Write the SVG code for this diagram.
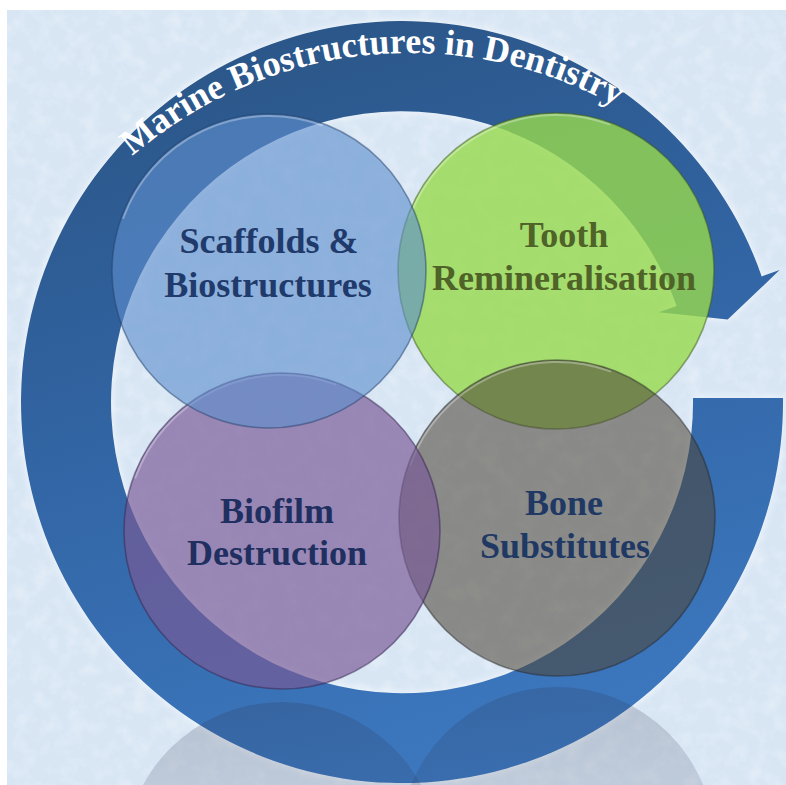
<svg xmlns="http://www.w3.org/2000/svg" xmlns:xlink="http://www.w3.org/1999/xlink" width="786" height="785" viewBox="0 0 786 785">
  <defs>
    <style>
      .lbl { font-family: "Liberation Serif", "Times New Roman", serif; font-weight: bold; font-size: 36px; text-anchor: middle; }
      .title { font-family: "Liberation Serif", "Times New Roman", serif; font-weight: bold; font-size: 36px; fill: #ffffff; }
      .rim { fill: none; stroke-width: 1.6; }
      .hl { fill: none; stroke: #ffffff; stroke-width: 2; stroke-opacity: 0.3; stroke-linecap: round; }
    </style>
    <linearGradient id="ringGrad" gradientUnits="userSpaceOnUse" x1="300" y1="20" x2="520" y2="783">
      <stop offset="0" stop-color="#2b5688"/>
      <stop offset="0.45" stop-color="#3265a4"/>
      <stop offset="1" stop-color="#3d79c1"/>
    </linearGradient>
    <linearGradient id="reflGrad" x1="0" y1="0" x2="0" y2="1">
      <stop offset="0" stop-color="#2a2f4a" stop-opacity="0.2"/>
      <stop offset="0.6" stop-color="#2a2f4a" stop-opacity="0.1"/>
      <stop offset="1" stop-color="#2a2f4a" stop-opacity="0"/>
    </linearGradient>
    <filter id="blur" x="-10%" y="-10%" width="120%" height="120%">
      <feGaussianBlur stdDeviation="4"/>
    </filter>
    <filter id="tex" x="0" y="0" width="100%" height="100%">
      <feTurbulence type="fractalNoise" baseFrequency="0.06" numOctaves="4" seed="7"/>
      <feColorMatrix type="matrix" values="0 0 0 0 1  0 0 0 0 1  0 0 0 0 1  1.6 0 0 0 -0.72"/>
    </filter>
    <path id="ringShape" d="M783,398 A381,381 0 1,1 761.7,276.4 L779.6,270.1 L727.7,319.6 L658.8,312.3 L676.7,306.1 A291,291 0 1,0 693,398 Z"/>
    <path id="titleArc" d="M132.3,156.3 A425,425 0 0,1 653.8,129.9"/>
  </defs>

  <!-- background -->
  <rect x="0" y="0" width="786" height="785" fill="#ffffff"/>
  <rect x="7" y="10" width="779" height="775" fill="#d8e6f4"/>
  <rect x="7" y="10" width="779" height="775" filter="url(#tex)" opacity="0.4"/>

  <!-- circular arrow -->
  <g id="connectors">
    <use xlink:href="#ringShape" fill="#ffffff" opacity="0.75" filter="url(#blur)"/>
    <use xlink:href="#ringShape" fill="url(#ringGrad)"/>
  </g>

  <g id="title">
    <text class="title"><textPath xlink:href="#titleArc" textLength="518" lengthAdjust="spacingAndGlyphs">Marine Biostructures in Dentistry</textPath></text>
  </g>

  <!-- reflections -->
  <g id="reflections">
    <circle cx="282" cy="860" r="158" fill="url(#reflGrad)"/>
    <circle cx="557" cy="845" r="158" fill="url(#reflGrad)"/>
  </g>

  <g id="node-tooth">
    <circle cx="556" cy="271" r="158" fill="#97d94c" fill-opacity="0.8"/>
    <circle class="rim" cx="556" cy="271" r="158" stroke="#3d5a1c" stroke-opacity="0.5"/>
    <path class="hl" d="M409.4,217.6 A156,156 0 0,1 609.4,124.4"/>
    <text class="lbl" fill="#4f6228" x="564" y="247">Tooth</text>
    <text class="lbl" fill="#4f6228" x="564" y="290">Remineralisation</text>
  </g>

  <g id="node-bone">
    <circle cx="557" cy="518" r="158" fill="#4d4537" fill-opacity="0.57"/>
    <circle class="rim" cx="557" cy="518" r="158" stroke="#2a2a2a" stroke-opacity="0.5"/>
    <path class="hl" d="M410.4,464.6 A156,156 0 0,1 610.4,371.4"/>
    <text class="lbl" fill="#1f3864" x="564" y="515">Bone</text>
    <text class="lbl" fill="#1f3864" x="565" y="558">Substitutes</text>
  </g>

  <g id="node-biofilm">
    <circle cx="282" cy="531" r="158" fill="#795a96" fill-opacity="0.68"/>
    <circle class="rim" cx="282" cy="531" r="158" stroke="#3a2a55" stroke-opacity="0.55"/>
    <path class="hl" d="M135.4,477.6 A156,156 0 0,1 335.4,384.4"/>
    <text class="lbl" fill="#1f2f60" x="277" y="523">Biofilm</text>
    <text class="lbl" fill="#1f2f60" x="277" y="565">Destruction</text>
  </g>

  <g id="node-scaffolds">
    <circle cx="269" cy="271" r="157" fill="#5d8ecd" fill-opacity="0.62"/>
    <circle class="rim" cx="269" cy="271" r="157" stroke="#24406a" stroke-opacity="0.5"/>
    <path class="hl" d="M123.3,218 A155,155 0 0,1 322,125.3"/>
    <text class="lbl" fill="#1f3a6b" x="269" y="253">Scaffolds &amp;</text>
    <text class="lbl" fill="#1f3a6b" x="268" y="297">Biostructures</text>
  </g>
</svg>
